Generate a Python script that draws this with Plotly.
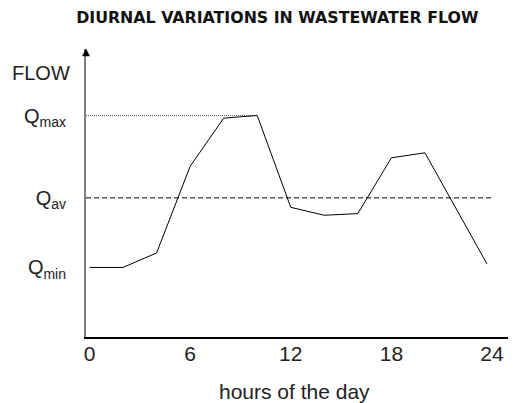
import plotly.graph_objects as go

# data (arbitrary flow units, Qav = 100)
hours = [0, 2, 4, 6, 8, 10, 12, 14, 16, 18, 20, 23.7]
flow = [50, 50, 60.4, 122.7, 157.3, 159.2, 93.2, 87.5, 88.7, 128.8, 132.4, 52.5]
q_min = 50
q_av = 100
q_max = 159.2
x_ticks = [0, 6, 12, 18, 24]
y_ticks = [q_min, q_av, q_max]
y_tick_text = ["Q<sub>min</sub>", "Q<sub>av</sub>", "Q<sub>max</sub>"]

x_range = [-0.21, 25.43]
y_range = [0, 207]

font_main = "Liberation Sans, Arial, sans-serif"

fig = go.Figure()

# Qav dashed line
fig.add_trace(go.Scatter(x=[x_range[0], 24], y=[q_av, q_av], mode="lines",
                         line=dict(color="black", width=1, dash="5px,3px"),
                         hoverinfo="skip", showlegend=False))
# Qmax dotted line
fig.add_trace(go.Scatter(x=[x_range[0], hours[flow.index(q_max)]], y=[q_max, q_max], mode="lines",
                         line=dict(color="#555555", width=1, dash="1px,1px"),
                         hoverinfo="skip", showlegend=False))
# flow curve
fig.add_trace(go.Scatter(x=hours, y=flow, mode="lines",
                         line=dict(color="black", width=1),
                         showlegend=False))

# page body has an 8px margin, so the figure is 8px smaller and offset
fig.update_layout(
    width=508, height=395,
    margin=dict(l=78, r=0, t=41, b=66),
    paper_bgcolor="white", plot_bgcolor="white",
    font=dict(family=font_main, color="#222222", size=21),
    title=dict(text="<b>DIURNAL VARIATIONS IN WASTEWATER FLOW</b>",
               x=0.53, xanchor="center", y=0.975, yanchor="middle",
               font=dict(family="DejaVu Sans, sans-serif", size=15.8, color="#111111")),
    xaxis=dict(range=x_range, tickvals=x_ticks, ticks="", showgrid=False, zeroline=False,
               showline=True, linecolor="black", linewidth=1.5,
               ticklabelstandoff=-3, tickfont=dict(size=21)),
    yaxis=dict(range=y_range, tickvals=y_ticks, ticktext=y_tick_text, ticks="",
               showgrid=False, zeroline=False, showline=True, linecolor="#808080",
               linewidth=2, ticklabelstandoff=14, tickfont=dict(size=20)),
)

# arrow head on y-axis
fig.add_shape(type="path", xref="paper", yref="paper", xsizemode="pixel", ysizemode="pixel",
              xanchor=0, yanchor=1, path="M -3.5 -7 L 3.5 -7 L 0 0 Z",
              fillcolor="black", line=dict(color="black", width=0.5))

# FLOW label
fig.add_annotation(text="FLOW", xref="paper", yref="paper", x=0, y=0.917, xanchor="right",
                   yanchor="middle", xshift=-14, showarrow=False, font=dict(size=20))

# x-axis title
fig.add_annotation(text="hours of the day", xref="x", yref="paper", x=12, y=0,
                   xanchor="center", yanchor="middle", yshift=-54, xshift=4, showarrow=False,
                   font=dict(size=21))

fig.write_html("out.html")
